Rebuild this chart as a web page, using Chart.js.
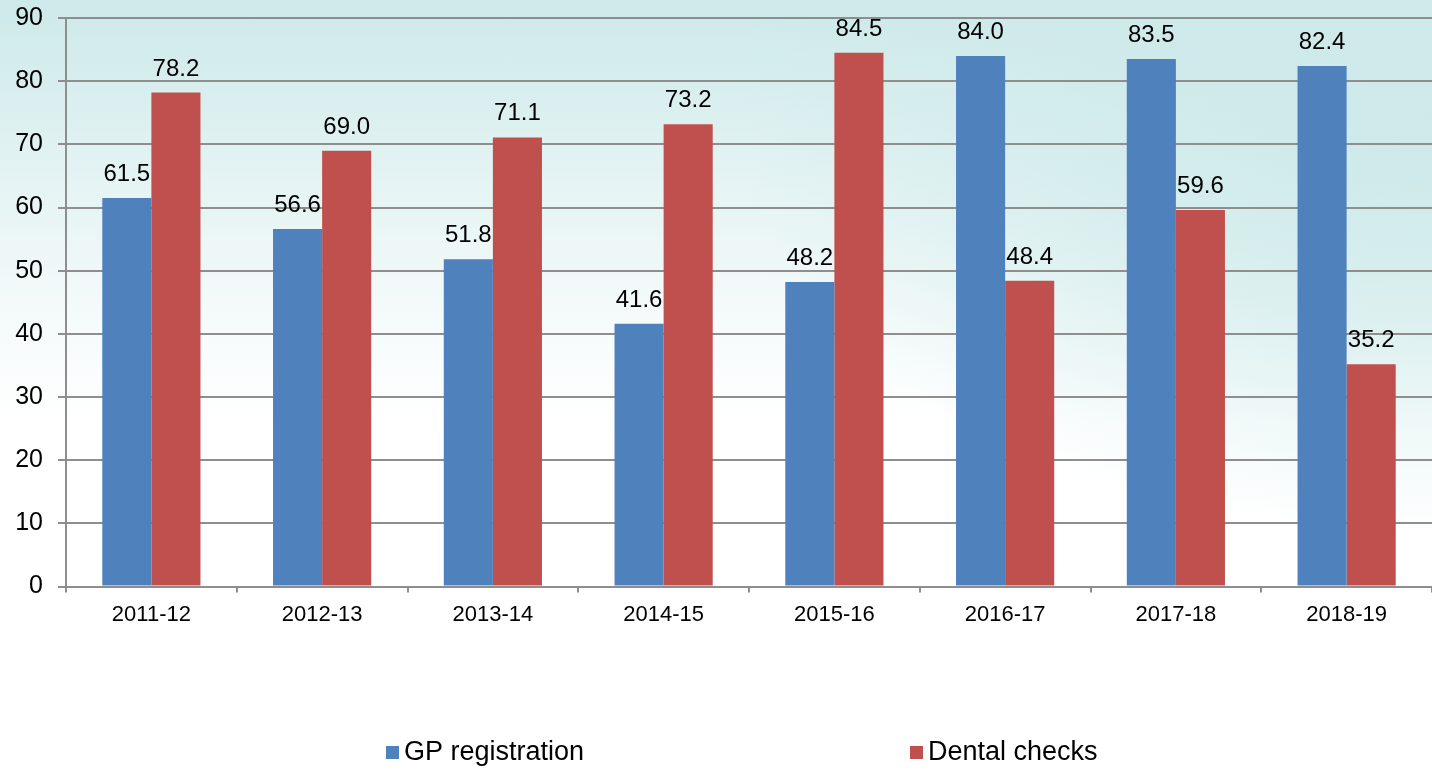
<!DOCTYPE html>
<html>
<head>
<meta charset="utf-8">
<script src="https://cdn.jsdelivr.net/npm/chart.js@4"></script>
<style>
  html, body { margin: 0; padding: 0; }
  body {
    width: 1432px; height: 770px; overflow: hidden;
    background:
      radial-gradient(700px 420px at 100% 15%, rgba(205,233,233,1) 0%, rgba(205,233,233,0.6) 50%, rgba(205,233,233,0) 100%),
      linear-gradient(to bottom, #cde9e9 0%, #e1f2f2 20%, #f4fafa 40%, #ffffff 55%);
  }
  #wrap { position: relative; width: 1432px; height: 770px; }
</style>
</head>
<body>
<div id="wrap"><canvas id="myBarChart"></canvas></div>
<script>
const years = ["2011-12", "2012-13", "2013-14", "2014-15", "2015-16", "2016-17", "2017-18", "2018-19"];
const gpRegistration = [61.5, 56.6, 51.8, 41.6, 48.2, 84.0, 83.5, 82.4];
const dentalChecks = [78.2, 69.0, 71.1, 73.2, 84.5, 48.4, 59.6, 35.2];
const yTicks = [0, 10, 20, 30, 40, 50, 60, 70, 80, 90];

const FONT = "'Liberation Sans', Arial, sans-serif";
const GRID = "#8e8e8e";

// valeurs au-dessus des barres
const valueLabels = {
  id: "valueLabels",
  afterDatasetsDraw(chart) {
    const ctx = chart.ctx;
    ctx.save();
    ctx.font = "24px " + FONT;
    ctx.fillStyle = "#000";
    ctx.textAlign = "center";
    ctx.textBaseline = "alphabetic";
    chart.data.datasets.forEach((ds, i) => {
      chart.getDatasetMeta(i).data.forEach((bar, j) => {
        ctx.fillText(ds.data[j].toFixed(1), bar.x, bar.y - 17);
      });
    });
    ctx.restore();
  },
};

// légende dessinée à la main (espacement large comme l'original)
const bottomLegend = {
  id: "bottomLegend",
  afterDraw(chart) {
    const ctx = chart.ctx;
    const spots = [386, 910];
    ctx.save();
    ctx.font = "27px " + FONT;
    ctx.textBaseline = "middle";
    chart.data.datasets.forEach((ds, i) => {
      ctx.fillStyle = ds.backgroundColor;
      ctx.fillRect(spots[i], 746, 13, 13);
      ctx.fillStyle = "#000";
      ctx.fillText(ds.label, spots[i] + 18, 753);
    });
    ctx.restore();
  },
};

const ctx = document.getElementById("myBarChart").getContext("2d");
new Chart(ctx, {
  type: "bar",
  data: {
    labels: years,
    datasets: [
      {
        label: "GP registration",
        data: gpRegistration,
        backgroundColor: "#4f81bd",
        categoryPercentage: 0.575,
        barPercentage: 1.0,
      },
      {
        label: "Dental checks",
        data: dentalChecks,
        backgroundColor: "#c0504d",
        categoryPercentage: 0.575,
        barPercentage: 1.0,
      },
    ],
  },
  options: {
    responsive: true,
    maintainAspectRatio: false,
    animation: false,
    layout: { padding: { top: 18, right: 0, bottom: 133, left: 0 } },
    plugins: {
      legend: { display: false },
      tooltip: { enabled: false },
    },
    scales: {
      x: {
        grid: {
          display: true,
          drawOnChartArea: false,
          drawTicks: true,
          tickLength: 6,
          color: GRID,
          lineWidth: 2,
          offset: true,
        },
        border: { display: true, color: GRID, width: 2 },
        ticks: {
          color: "#000",
          font: { family: FONT, size: 22 },
          padding: 9,
          maxRotation: 0,
        },
      },
      y: {
        min: 0,
        max: 90,
        afterBuildTicks(scale) {
          scale.ticks = yTicks.map((v) => ({ value: v }));
        },
        afterFit(scale) {
          scale.width = 66;
          scale.paddingTop = 0;
          scale.paddingBottom = 0;
        },
        grid: {
          color: GRID,
          lineWidth: 2,
          tickLength: 8,
        },
        border: { display: true, color: GRID, width: 2 },
        ticks: {
          color: "#000",
          font: { family: FONT, size: 25 },
          padding: 15,
        },
      },
    },
  },
  plugins: [valueLabels, bottomLegend],
});
</script>
</body>
</html>
